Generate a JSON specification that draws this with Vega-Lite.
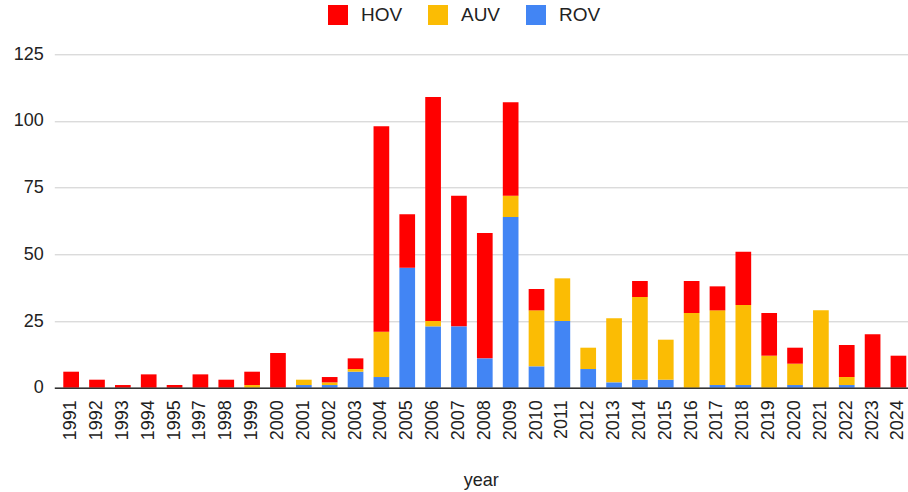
{
  "$schema": "https://vega.github.io/schema/vega-lite/v6.json",
  "width": 861,
  "height": 333.4,
  "autosize": "none",
  "padding": {"left": 54.3, "top": 54.3, "right": 0, "bottom": 104.3},
  "background": "white",
  "config": {
    "font": "Liberation Sans",
    "view": {"stroke": null}
  },
  "data": {
    "values": [
      {"year": "1991", "type": "HOV", "n": 6},
      {"year": "1992", "type": "HOV", "n": 3},
      {"year": "1993", "type": "HOV", "n": 1},
      {"year": "1994", "type": "HOV", "n": 5},
      {"year": "1995", "type": "HOV", "n": 1},
      {"year": "1997", "type": "HOV", "n": 5},
      {"year": "1998", "type": "HOV", "n": 3},
      {"year": "1999", "type": "AUV", "n": 1},
      {"year": "1999", "type": "HOV", "n": 5},
      {"year": "2000", "type": "HOV", "n": 13},
      {"year": "2001", "type": "ROV", "n": 1},
      {"year": "2001", "type": "AUV", "n": 2},
      {"year": "2002", "type": "ROV", "n": 1},
      {"year": "2002", "type": "AUV", "n": 1},
      {"year": "2002", "type": "HOV", "n": 2},
      {"year": "2003", "type": "ROV", "n": 6},
      {"year": "2003", "type": "AUV", "n": 1},
      {"year": "2003", "type": "HOV", "n": 4},
      {"year": "2004", "type": "ROV", "n": 4},
      {"year": "2004", "type": "AUV", "n": 17},
      {"year": "2004", "type": "HOV", "n": 77},
      {"year": "2005", "type": "ROV", "n": 45},
      {"year": "2005", "type": "HOV", "n": 20},
      {"year": "2006", "type": "ROV", "n": 23},
      {"year": "2006", "type": "AUV", "n": 2},
      {"year": "2006", "type": "HOV", "n": 84},
      {"year": "2007", "type": "ROV", "n": 23},
      {"year": "2007", "type": "HOV", "n": 49},
      {"year": "2008", "type": "ROV", "n": 11},
      {"year": "2008", "type": "HOV", "n": 47},
      {"year": "2009", "type": "ROV", "n": 64},
      {"year": "2009", "type": "AUV", "n": 8},
      {"year": "2009", "type": "HOV", "n": 35},
      {"year": "2010", "type": "ROV", "n": 8},
      {"year": "2010", "type": "AUV", "n": 21},
      {"year": "2010", "type": "HOV", "n": 8},
      {"year": "2011", "type": "ROV", "n": 25},
      {"year": "2011", "type": "AUV", "n": 16},
      {"year": "2012", "type": "ROV", "n": 7},
      {"year": "2012", "type": "AUV", "n": 8},
      {"year": "2013", "type": "ROV", "n": 2},
      {"year": "2013", "type": "AUV", "n": 24},
      {"year": "2014", "type": "ROV", "n": 3},
      {"year": "2014", "type": "AUV", "n": 31},
      {"year": "2014", "type": "HOV", "n": 6},
      {"year": "2015", "type": "ROV", "n": 3},
      {"year": "2015", "type": "AUV", "n": 15},
      {"year": "2016", "type": "AUV", "n": 28},
      {"year": "2016", "type": "HOV", "n": 12},
      {"year": "2017", "type": "ROV", "n": 1},
      {"year": "2017", "type": "AUV", "n": 28},
      {"year": "2017", "type": "HOV", "n": 9},
      {"year": "2018", "type": "ROV", "n": 1},
      {"year": "2018", "type": "AUV", "n": 30},
      {"year": "2018", "type": "HOV", "n": 20},
      {"year": "2019", "type": "AUV", "n": 12},
      {"year": "2019", "type": "HOV", "n": 16},
      {"year": "2020", "type": "ROV", "n": 1},
      {"year": "2020", "type": "AUV", "n": 8},
      {"year": "2020", "type": "HOV", "n": 6},
      {"year": "2021", "type": "AUV", "n": 29},
      {"year": "2022", "type": "ROV", "n": 1},
      {"year": "2022", "type": "AUV", "n": 3},
      {"year": "2022", "type": "HOV", "n": 12},
      {"year": "2023", "type": "HOV", "n": 20},
      {"year": "2024", "type": "HOV", "n": 12}
    ]
  },
  "transform": [
    {"calculate": "indexof(['ROV','AUV','HOV'], datum.type)", "as": "stackOrder"}
  ],
  "mark": {"type": "bar"},
  "encoding": {
    "x": {
      "field": "year",
      "type": "ordinal",
      "scale": {"paddingInner": 0.393, "paddingOuter": 0.348},
      "axis": {
        "title": "year",
        "labelAngle": -90,
        "ticks": false,
        "labelPadding": 12,
        "labelFontSize": 18,
        "labelColor": "#222222",
        "domainColor": "#333333",
        "domainWidth": 1.5,
        "titleFontSize": 18,
        "titleFontWeight": "normal",
        "titleColor": "#222222",
        "titlePadding": 32,
        "titleX": 426.5,
        "zindex": 1
      }
    },
    "y": {
      "field": "n",
      "type": "quantitative",
      "stack": "zero",
      "scale": {"domain": [0, 125], "nice": false},
      "axis": {
        "title": null,
        "values": [0, 25, 50, 75, 100, 125],
        "ticks": false,
        "domain": false,
        "labelPadding": 11,
        "labelFontSize": 18,
        "labelColor": "#222222",
        "gridColor": "#cccccc",
        "gridWidth": 1
      }
    },
    "color": {
      "field": "type",
      "type": "nominal",
      "scale": {"domain": ["HOV", "AUV", "ROV"], "range": ["#ff0000", "#fbbc04", "#4285f4"]},
      "legend": {
        "title": null,
        "orient": "none",
        "legendX": 273.7,
        "legendY": -49.3,
        "direction": "horizontal",
        "symbolType": "square",
        "symbolSize": 400,
        "symbolStrokeWidth": 0,
        "symbolOpacity": 1,
        "labelFontSize": 19,
        "labelColor": "#222222",
        "labelOffset": 13,
        "columnPadding": 25,
        "padding": 0
      }
    },
    "order": {"field": "stackOrder", "type": "quantitative", "sort": "ascending"}
  }
}
